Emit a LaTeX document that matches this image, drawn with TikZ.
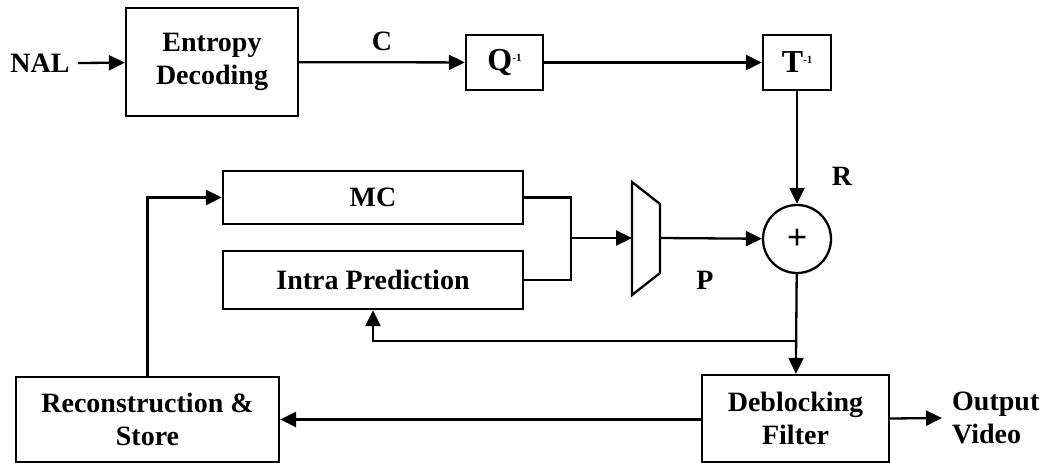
\documentclass[tikz,border=0pt]{standalone}
\usepackage{fontspec}
\setmainfont{Liberation Serif}
\usetikzlibrary{arrows.meta}

\tikzset{
  blk/.style={draw, line width=2.3pt, inner sep=0pt, align=center,
    font=\fontsize{28}{33}\selectfont\bfseries},
  lbl/.style={inner sep=0pt, align=left, font=\fontsize{28}{33}\selectfont\bfseries},
  flow/.style={line width=2.3pt, -{Triangle[length=16pt,width=15pt]}},
  wire/.style={line width=2.3pt}
}
\newcommand{\inv}[1]{{\fontsize{32}{33}\selectfont #1}\raisebox{0.7ex}{\fontsize{11}{11}\selectfont -1}}

\begin{document}
\begin{tikzpicture}[x=1pt, y=-1pt]
        \useasboundingbox (0,0) rectangle (1044,463);

        % Decoder blocks
        \node[lbl] (nal) at (40,63) {NAL};
        \node[blk, minimum width=172pt, minimum height=108pt] (ent) at (212,62) {Entropy\\Decoding};
        \node[blk, minimum width=77pt, minimum height=55pt] (q) at (504.5,62.5) {\inv{Q}};
        \node[blk, minimum width=68pt, minimum height=55pt] (t) at (797,62.5) {\inv{T}};
        \node[blk, circle, minimum size=68pt, font=\fontsize{36}{36}\selectfont\bfseries] (sum) at (797,239) {+};
        \node[blk, minimum width=300pt, minimum height=53pt] (mc) at (373,197.5) {MC};
        \node[blk, minimum width=300pt, minimum height=58pt] (intra) at (373,280) {Intra Prediction};
        \node[blk, minimum width=187pt, minimum height=87pt] (dbf) at (795.5,418.5) {Deblocking\\Filter};
        \node[blk, minimum width=263pt, minimum height=85pt] (rec) at (147.5,419.5) {Reconstruction \&\\Store};
        \node[lbl, anchor=west] (out) at (952,418) {Output\\Video};

        % Selector between MC and intra prediction
        \coordinate (muxin) at (632,238);   % Left side
        \coordinate (muxout) at (660,238);  % Right side
        \coordinate (join) at (571,238);    % Where both predictions meet
        \coordinate (tap) at (796,341);     % Feedback to intra
        \draw[wire, line join=miter] (632,182) -- (660,204) -- (660,273) -- (632,295) -- cycle;

        % Signal path
        \draw[flow] ([xshift=8pt]nal.east) -- (ent);
        \draw[flow] (ent) -- node[lbl, above=10pt] (c) {C} (q);
        \draw[flow] (q) -- (t);
        \draw[flow] (t) -- (sum);
        \draw[wire] (mc.east) -| (join);
        \draw[wire] (intra.east) -| (join);
        \draw[flow] (join) -- (muxin);
        \draw[flow] (muxout) -- (sum);
        \draw[flow] (sum) -- (dbf);
        \draw[flow] (tap) -| (intra.south);
        \draw[flow] (dbf.west |- rec.east) -- (rec.east);
        \draw[flow] (rec.north) |- (mc.west);
        \draw[flow] (dbf.east) -- ([xshift=-10pt]out.west);

        % Labels
        \node[lbl] (r) at (842,176) {R};
        \node[lbl] (p) at (705,280) {P};

    \end{tikzpicture}
\end{document}
